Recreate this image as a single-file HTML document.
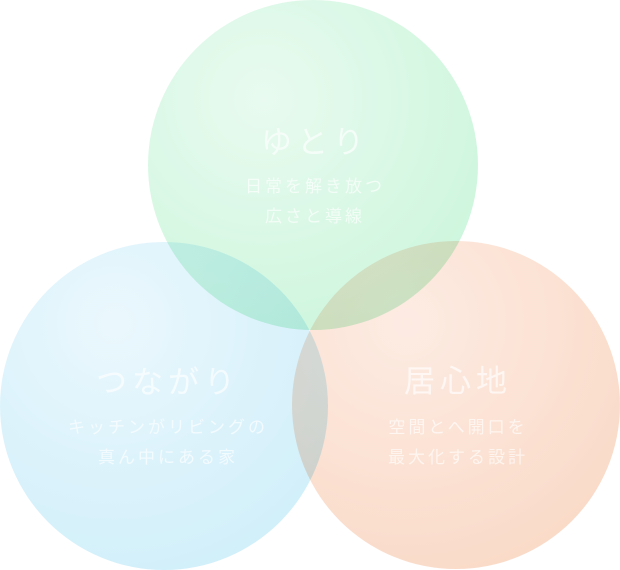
<!DOCTYPE html>
<html><head><meta charset="utf-8"><style>
body{margin:0;width:620px;height:570px;background:#fff;overflow:hidden;position:relative;font-family:"Liberation Sans","Noto Sans CJK JP",sans-serif}
.c{position:absolute;border-radius:50%;opacity:.88;mix-blend-mode:multiply}
.g{left:148px;top:0;width:330px;height:330px;background:radial-gradient(circle at 35% 30%,#e6fbee,#c9f5da 75%,#c0f2d3)}
.b{left:0;top:242px;width:328px;height:328px;background:radial-gradient(circle at 35% 25%,#e8f7fd,#cdeefa 75%,#c4ebf9)}
.o{left:292px;top:241px;width:328px;height:328px;background:radial-gradient(circle at 35% 25%,#fde9df,#fad7c3 75%,#f9cfb8)}
.t{position:absolute;color:rgba(255,255,255,.65);text-align:center;width:300px}
.h{font-size:31px;letter-spacing:5px}
.s{font-size:17px;letter-spacing:3px;line-height:30px}
</style></head><body>
<div class="c g"></div><div class="c b"></div><div class="c o"></div>
<div class="t h" style="left:165px;top:117px">ゆとり</div>
<div class="t s" style="left:165px;top:172px">日常を解き放つ<br>広さと導線</div>
<div class="t h" style="left:18px;top:357px">つながり</div>
<div class="t s" style="left:18px;top:413px">キッチンがリビングの<br>真ん中にある家</div>
<div class="t h" style="left:308px;top:356px">居心地</div>
<div class="t s" style="left:308px;top:413px">空間とへ開口を<br>最大化する設計</div>
</body></html>
